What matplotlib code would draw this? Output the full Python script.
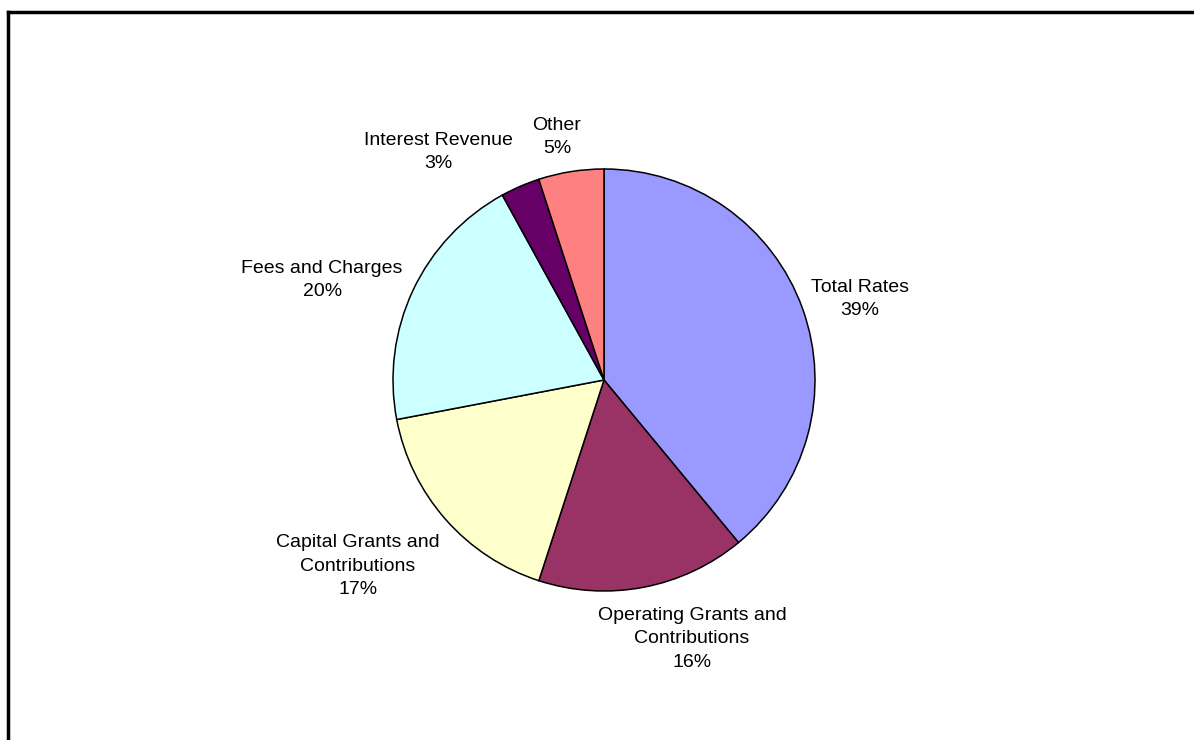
import matplotlib.pyplot as plt

plt.rc('font', family=['Liberation Sans', 'DejaVu Sans'])

categories = ["Total Rates", "Operating Grants and\nContributions",
              "Capital Grants and\nContributions", "Fees and Charges",
              "Interest Revenue", "Other"]
shares = [39, 16, 17, 20, 3, 5]
colors = ["#9999FF", "#993366", "#FFFFCC", "#CCFFFF", "#660066", "#FF8080"]
# label centres, in units of the pie radius
label_pos = [(1.213, 0.384), (0.417, -1.227), (-1.166, -0.882),
             (-1.336, 0.474), (-0.787, 1.081), (-0.223, 1.152)]

W, H = 1194, 740
fig = plt.figure(figsize=(W / 100, H / 100), dpi=100)
cx, cy, r = 604, 380, 211
ax = fig.add_axes([(cx - r) / W, (H - cy - r) / H, 2 * r / W, 2 * r / H])
ax.pie(shares, colors=colors, startangle=90, counterclock=False, radius=1,
       wedgeprops=dict(edgecolor="black", linewidth=1.1))
ax.set_xlim(-1, 1)
ax.set_ylim(-1, 1)
ax.set_aspect('equal')
ax.axis('off')

total = sum(shares)
for name, v, (x, y) in zip(categories, shares, label_pos):
    ax.text(x, y, "%s\n%d%%" % (name, round(100 * v / total)),
            ha='center', va='center', fontsize=14, linespacing=1.5,
            clip_on=False)

# chart area frame (top and left edges)
fig.add_artist(plt.Line2D([7.5 / W, 7.5 / W], [0, 1 - 11.5 / H],
                          color="black", lw=2.5, solid_capstyle='projecting'))
fig.add_artist(plt.Line2D([7.5 / W, 1], [1 - 11.5 / H, 1 - 11.5 / H],
                          color="black", lw=2.5, solid_capstyle='projecting'))

fig.savefig("out.png", dpi=100)
